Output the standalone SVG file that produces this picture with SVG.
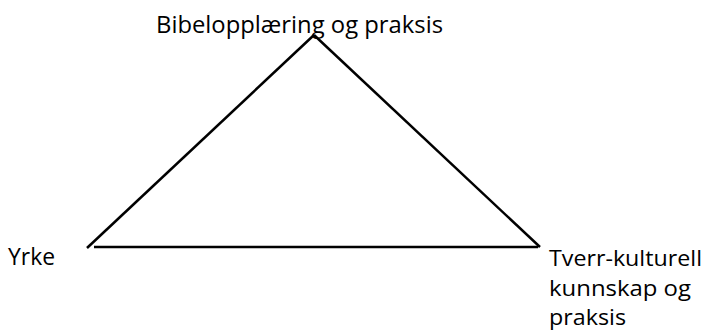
<svg xmlns="http://www.w3.org/2000/svg" width="710" height="332" viewBox="0 0 710 332">
<style>
.lbl{font-family:"Open Sans","Noto Sans",sans-serif;font-size:23px;fill:#000}
.rl{font-size:22px}
.edge{stroke:#000;stroke-width:2.5;fill:none;stroke-linecap:butt}
</style>
<rect width="710" height="332" fill="#fff"/>
<g id="connectors">
<line class="edge" x1="314" y1="35" x2="87" y2="248"/>
<line class="edge" x1="94" y1="247" x2="538" y2="247"/>
<line class="edge" x1="314" y1="35" x2="540" y2="247"/>
</g>
<g id="node-top">
<text class="lbl" x="156" y="33" textLength="287" lengthAdjust="spacingAndGlyphs">Bibelopplæring og praksis</text>
</g>
<g id="node-left">
<text class="lbl" x="8" y="265" textLength="47" lengthAdjust="spacingAndGlyphs">Yrke</text>
</g>
<g id="node-right">
<text class="lbl rl" x="549" y="266" textLength="153" lengthAdjust="spacingAndGlyphs">Tverr-kulturell</text>
<text class="lbl rl" x="549" y="296" textLength="142" lengthAdjust="spacingAndGlyphs">kunnskap og</text>
<text class="lbl rl" x="549" y="325" textLength="77" lengthAdjust="spacingAndGlyphs">praksis</text>
</g>
</svg>
